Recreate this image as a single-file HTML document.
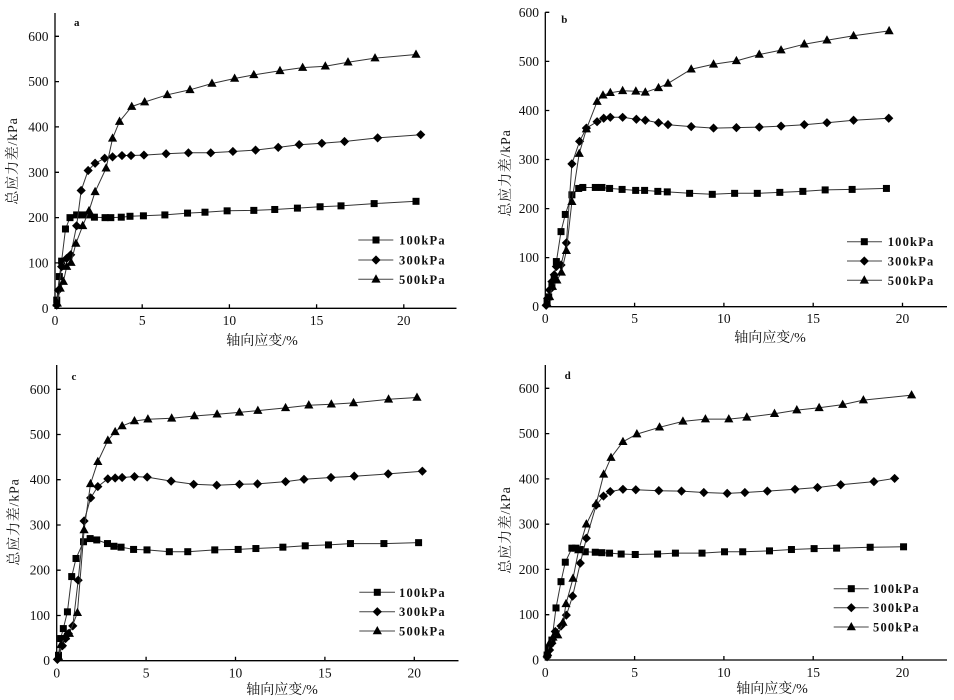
<!DOCTYPE html>
<html><head><meta charset="utf-8">
<style>
html,body{margin:0;padding:0;background:#fff;}
svg{display:block;}
text{font-family:"Liberation Serif","Noto Serif CJK SC","Noto Sans CJK SC",serif;fill:#111;}
.t{font-size:13.5px;}
.lg{font-size:12.5px;font-weight:bold;letter-spacing:1.2px;}
.ax{font-size:14px;fill:#222;}
.ay{font-size:14px;fill:#222;letter-spacing:0.8px;}
.pl{font-size:11px;font-weight:bold;}
</style></head>
<body>
<svg id="s" width="954" height="700" viewBox="0 0 954 700" xmlns="http://www.w3.org/2000/svg">
<g id="axes" stroke="#000" stroke-width="1.3" fill="none">
<path d="M55,13 V308.3 H456.5"/>
<path d="M55,36.3h4M55,81.6h4M55,126.9h4M55,172.3h4M55,217.6h4M55,262.9h4M142.2,308.3v-4M229.4,308.3v-4M316.6,308.3v-4M403.8,308.3v-4"/>
<path d="M545.3,12.3 V306.7 H947"/>
<path d="M545.3,12.3h4M545.3,61.4h4M545.3,110.5h4M545.3,159.5h4M545.3,208.6h4M545.3,257.6h4M634.6,306.7v-4M723.9,306.7v-4M813.2,306.7v-4M902.5,306.7v-4"/>
<path d="M56.7,365 V660.7 H458.5"/>
<path d="M56.7,389.3h4M56.7,434.5h4M56.7,479.7h4M56.7,525h4M56.7,570.2h4M56.7,615.5h4M146.1,660.7v-4M235.5,660.7v-4M324.9,660.7v-4M414.3,660.7v-4"/>
<path d="M545.3,365 V660 H947"/>
<path d="M545.3,388.3h4M545.3,433.6h4M545.3,478.9h4M545.3,524.2h4M545.3,569.4h4M545.3,614.7h4M634.6,660v-4M723.9,660v-4M813.2,660v-4M902.5,660v-4"/>
</g>

<g class="t" text-anchor="end">
<text x="48.5" y="312.8">0</text><text x="48.5" y="267.4">100</text><text x="48.5" y="222.1">200</text><text x="48.5" y="176.8">300</text><text x="48.5" y="131.4">400</text><text x="48.5" y="86.1">500</text><text x="48.5" y="40.8">600</text>
<text x="539" y="311.2">0</text><text x="539" y="262.1">100</text><text x="539" y="213.1">200</text><text x="539" y="164">300</text><text x="539" y="115">400</text><text x="539" y="65.9">500</text><text x="539" y="16.8">600</text>
<text x="50" y="665.2">0</text><text x="50" y="620">100</text><text x="50" y="574.7">200</text><text x="50" y="529.5">300</text><text x="50" y="484.2">400</text><text x="50" y="439">500</text><text x="50" y="393.8">600</text>
<text x="539" y="664.5">0</text><text x="539" y="619.2">100</text><text x="539" y="573.9">200</text><text x="539" y="528.7">300</text><text x="539" y="483.4">400</text><text x="539" y="438.1">500</text><text x="539" y="392.8">600</text>
</g>
<g class="t" text-anchor="middle">
<text x="55" y="325">0</text><text x="142.2" y="325">5</text><text x="229.4" y="325">10</text><text x="316.6" y="325">15</text><text x="403.8" y="325">20</text>
<text x="545.3" y="323">0</text><text x="634.6" y="323">5</text><text x="723.9" y="323">10</text><text x="813.2" y="323">15</text><text x="902.5" y="323">20</text>
<text x="56.7" y="677.5">0</text><text x="146.1" y="677.5">5</text><text x="235.5" y="677.5">10</text><text x="324.9" y="677.5">15</text><text x="414.3" y="677.5">20</text>
<text x="545.3" y="677">0</text><text x="634.6" y="677">5</text><text x="723.9" y="677">10</text><text x="813.2" y="677">15</text><text x="902.5" y="677">20</text>
</g>

<g class="ax" text-anchor="middle">
<text x="262" y="345">轴向应变/%</text>
<text x="770" y="342">轴向应变/%</text>
<text x="282" y="694">轴向应变/%</text>
<text x="772" y="693">轴向应变/%</text>
</g>
<g class="ay" text-anchor="middle">
<text transform="translate(17,161) rotate(-90)">总应力差/kPa</text>
<text transform="translate(510,173) rotate(-90)">总应力差/kPa</text>
<text transform="translate(18.5,522) rotate(-90)">总应力差/kPa</text>
<text transform="translate(510,530) rotate(-90)">总应力差/kPa</text>
</g>

<g class="pl" text-anchor="middle">
<text x="76.7" y="26">a</text>
<text x="564.3" y="23">b</text>
<text x="74" y="380">c</text>
<text x="567.7" y="379">d</text>
</g>

<g id="legends" stroke="#444" stroke-width="1">
<path d="M358.3,240H393.3M358.3,260H393.3M358.3,279.3H393.3"/>
<path d="M847,241.7H882M847,261H882M847,280.3H882"/>
<path d="M359.3,592.3H395M359.3,611.7H395M359.3,631H395"/>
<path d="M833.7,588.7H868.7M833.7,607.7H868.7M833.7,627H868.7"/>
</g>
<g class="lg">
<text x="399" y="244.5">100kPa</text><text x="399" y="264.5">300kPa</text><text x="399" y="283.8">500kPa</text>
<text x="887.7" y="246.2">100kPa</text><text x="887.7" y="265.5">300kPa</text><text x="887.7" y="284.8">500kPa</text>
<text x="399" y="596.8">100kPa</text><text x="399" y="616.2">300kPa</text><text x="399" y="635.5">500kPa</text>
<text x="873" y="593.2">100kPa</text><text x="873" y="612.2">300kPa</text><text x="873" y="631.5">500kPa</text>
</g>
<g id="data"></g>
</svg>
<script>
(function(){
var NS="http://www.w3.org/2000/svg";
var g=document.getElementById("data");
function mk(type,x,y){
  var e;
  if(type==0){e=document.createElementNS(NS,"rect");e.setAttribute("x",x-3.5);e.setAttribute("y",y-3.5);e.setAttribute("width",7);e.setAttribute("height",7);}
  else if(type==1){e=document.createElementNS(NS,"polygon");e.setAttribute("points",(x)+","+(y-4.6)+" "+(x+4.6)+","+y+" "+x+","+(y+4.6)+" "+(x-4.6)+","+y);}
  else {e=document.createElementNS(NS,"polygon");e.setAttribute("points",(x)+","+(y-5)+" "+(x+4.6)+","+(y+3.3)+" "+(x-4.6)+","+(y+3.3));}
  e.setAttribute("fill","#000");
  g.appendChild(e);
}
function series(P,pts,type){
  var s="",c=[];
  for(var i=0;i<pts.length;i+=2){var X=P[0]+pts[i]*P[2],Y=P[1]-pts[i+1]*P[3];s+=X.toFixed(1)+","+Y.toFixed(1)+" ";c.push([X,Y]);}
  var pl=document.createElementNS(NS,"polyline");
  pl.setAttribute("points",s);pl.setAttribute("fill","none");pl.setAttribute("stroke","#333");pl.setAttribute("stroke-width","1");
  g.appendChild(pl);
  for(var j=0;j<c.length;j++)mk(type,c[j][0],c[j][1]);
}
var A=[55,308.3,17.44,0.4533],B=[545.3,306.7,17.86,0.4907],C=[56.7,660.7,17.88,0.4523],D=[545.3,660,17.85,0.4528];
var LG=[[376,240,260,279.3],[864.3,241.7,261,280.3],[377.3,592.3,611.7,631],[851.3,588.7,607.7,627]];
LG.forEach(function(l){mk(0,l[0],l[1]);mk(1,l[0],l[2]);mk(2,l[0],l[3]);});

series(A,[0.1,18,0.25,70,0.38,104,0.6,175,0.86,200,1.24,206,1.57,206,1.9,206,2.26,201,2.87,200,3.2,200,3.8,201,4.3,203,5.07,204,6.3,206,7.6,210,8.6,212,9.87,215,11.4,216,12.6,218,13.9,221,15.2,224,16.4,226,18.3,231,20.7,236],0);
series(A,[0.1,7,0.2,40,0.38,92,0.67,110,0.9,118,1.24,182,1.5,260,1.9,304,2.3,320,2.85,331,3.3,334,3.84,337,4.36,337,5.1,338,6.37,341,7.65,343,8.93,343,10.2,346,11.5,349,12.8,355,14.0,361,15.3,364,16.6,368,18.5,376,20.97,383],1);
series(A,[0.13,11,0.3,44,0.48,59,0.67,92,0.92,101,1.2,143,1.59,182,1.95,215,2.3,257,2.93,309,3.3,375,3.7,412,4.4,445,5.14,455,6.44,471,7.74,482,9.0,496,10.3,507,11.4,515,12.9,524,14.2,531,15.5,534,16.8,543,18.35,552,20.7,560],2);

series(B,[0.1,10,0.19,20,0.37,41,0.5,58,0.62,92,0.88,153,1.12,188,1.49,228,1.87,241,2.1,243,2.8,243,3.17,243,3.6,241,4.3,239,5.06,237,5.56,237,6.3,235,6.83,234,8.08,231,9.35,229,10.6,231,11.87,231,13.13,233,14.42,235,15.67,238,17.18,239,19.1,241],0);
series(B,[0.05,3,0.13,17,0.24,34,0.37,51,0.5,65,0.62,82,0.88,85,1.18,130,1.49,291,1.92,337,2.3,364,2.9,377,3.27,384,3.64,386,4.33,386,5.1,382,5.6,380,6.34,375,6.87,371,8.17,367,9.42,364,10.7,365,11.98,366,13.2,368,14.5,371,15.77,375,17.26,380,19.23,384],1);
series(B,[0.1,7,0.24,20,0.4,41,0.65,54,0.9,70,1.18,114,1.49,214,1.9,312,2.3,362,2.9,418,3.23,431,3.64,436,4.33,440,5.07,439,5.6,437,6.34,446,6.87,455,8.17,484,9.42,494,10.7,501,11.98,514,13.2,523,14.5,535,15.77,543,17.26,552,19.25,562],2);

series(C,[0.1,12,0.22,49,0.37,71,0.6,108,0.84,186,1.08,226,1.5,263,1.87,270,2.24,267,2.84,259,3.2,253,3.6,251,4.3,246,5.05,245,6.3,241,7.33,241,8.84,245,10.15,246,11.14,248,12.65,251,13.9,254,15.2,256,16.43,259,18.3,259,20.24,261],0);
series(C,[0.04,3,0.32,33,0.5,49,0.65,60,0.9,77,1.2,178,1.53,309,1.9,360,2.3,385,2.86,402,3.27,404,3.66,405,4.35,407,5.06,406,6.4,397,7.66,390,8.95,388,10.22,390,11.23,391,12.8,396,13.83,401,15.34,405,16.64,408,18.54,413,20.45,419],1);
series(C,[0.1,9,0.24,35,0.47,53,0.71,60,1.16,106,1.53,289,1.89,391,2.3,440,2.86,487,3.27,506,3.66,519,4.35,530,5.1,534,6.43,536,7.7,541,8.97,545,10.22,549,11.25,553,12.8,559,14.1,565,15.36,567,16.6,570,18.56,578,20.15,582],2);

series(D,[0.1,11,0.19,26,0.37,44,0.6,115,0.88,173,1.12,216,1.49,247,1.7,247,1.96,244,2.24,239,2.8,238,3.17,237,3.6,236,4.25,234,5.04,233,6.29,234,7.29,236,8.78,236,10.04,239,11.06,239,12.56,241,13.79,244,15.06,246,16.32,247,18.2,249,20.07,250],0);
series(D,[0.1,7,0.24,22,0.37,37,0.56,63,0.88,75,1.18,99,1.53,141,1.96,214,2.3,269,2.85,342,3.26,362,3.64,372,4.35,377,5.07,376,6.36,374,7.63,373,8.88,370,10.19,368,11.18,370,12.44,373,13.99,377,15.25,381,16.55,387,18.41,394,19.57,401],1);
series(D,[0.13,16,0.24,37,0.43,50,0.7,55,0.99,83,1.16,124,1.55,180,1.87,243,2.3,300,2.85,345,3.27,410,3.68,447,4.35,482,5.13,499,6.4,514,7.71,527,8.97,532,10.28,532,11.29,536,12.84,544,14.09,552,15.34,557,16.66,564,17.82,574,20.52,585],2);
})();
</script>
</body></html>
